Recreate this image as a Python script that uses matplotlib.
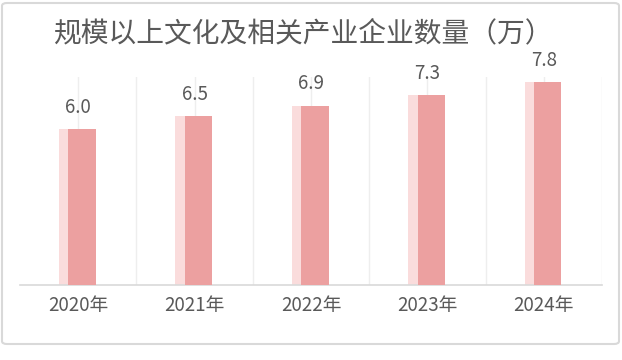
import numpy as np
import matplotlib.pyplot as plt
from matplotlib.patches import FancyBboxPatch

plt.rcParams['font.family'] = ['Noto Sans CJK SC', 'DejaVu Sans']

years = ['2020年', '2021年', '2022年', '2023年', '2024年']
counts = [6.0, 6.5, 6.9, 7.3, 7.8]
title = '规模以上文化及相关产业企业数量（万）'

fig = plt.figure(figsize=(6.22, 3.6), dpi=100)
fig.patch.set_facecolor('white')

# outer border
border = FancyBboxPatch((2/622, 16/360), 617/622, 341/360,
                        boxstyle='round,pad=0,rounding_size=0.008',
                        transform=fig.transFigure, fill=False,
                        edgecolor='#D9D9D9', linewidth=1.5)
fig.patches.append(border)

ax = fig.add_axes([20/622, 75/360, 582/622, 208/360])
x = np.arange(len(years))
w = 0.235

# vertical gridlines at centres and boundaries
for g in np.arange(0, len(years), 0.5):
    ax.axvline(g, color='#EEEEEE', linewidth=1, zorder=0)

ax.bar(x - 0.047, counts, width=w, color='#FADCDC', zorder=2)
ax.bar(x + 0.033, counts, width=w, color='#ECA0A0', zorder=3)

for xi, v in zip(x, counts):
    ax.annotate(f'{v:.1f}', (xi, v), xytext=(0, 8), textcoords='offset points',
                ha='center', va='bottom', fontsize=13.5, color='#595959')

ax.set_xlim(-0.5, len(years) - 0.5)
ax.set_ylim(0, 8)
ax.set_xticks(x)
ax.set_xticklabels(years, fontsize=13.5, color='#595959')
ax.tick_params(axis='x', length=0, pad=7)
ax.set_yticks([])
for s in ['top', 'left', 'right']:
    ax.spines[s].set_visible(False)
ax.spines['bottom'].set_color('#D9D9D9')
ax.spines['bottom'].set_linewidth(1.2)

fig.text(303/622, 1 - 33/360, title, ha='center', va='center',
         fontsize=20, color='#595959')

fig.savefig('out.png', dpi=100)
